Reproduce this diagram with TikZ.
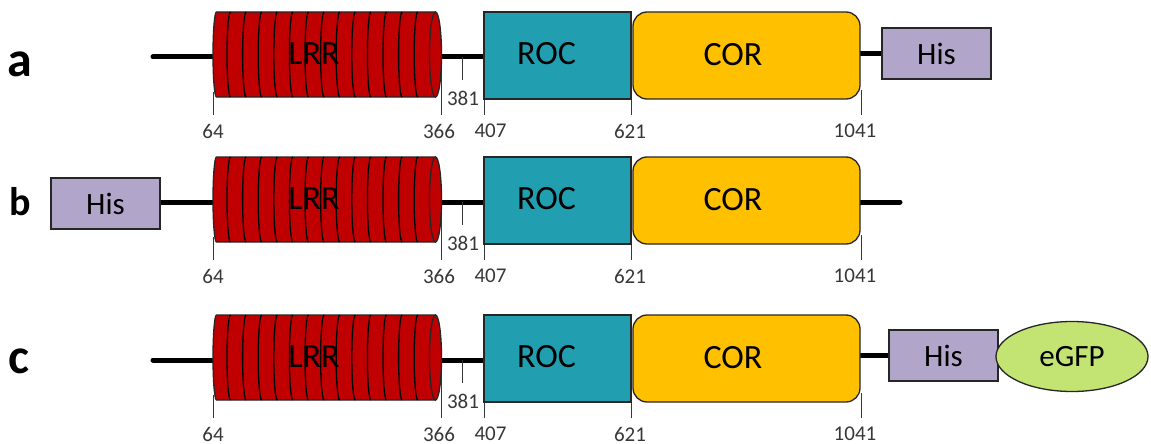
\documentclass[tikz,border=0pt]{standalone}
\usepackage{fontspec}
\setmainfont{Carlito}
\usetikzlibrary{shapes.geometric}

\definecolor{lrrred}{RGB}{192,0,0}
\definecolor{rocteal}{RGB}{33,158,175}
\definecolor{coryellow}{RGB}{255,192,0}
\definecolor{hislav}{RGB}{177,165,201}
\definecolor{gfpgreen}{RGB}{195,228,115}
\definecolor{tickgrey}{RGB}{55,55,55}

\pgfdeclarelayer{bg}
\pgfsetlayers{bg,main}

\tikzset{
  backbone/.style={line width=5pt, line cap=round, black},
  outline/.style={draw=black!85, line width=1.3pt},
  stripe/.style={draw=black, line width=1.3pt},
  tickmark/.style={draw=tickgrey, line width=1pt},
  ticklabel/.style={text=tickgrey, font=\fontsize{21}{24}\selectfont, inner sep=0pt},
  domtext/.style={font=\fontsize{34}{40}\selectfont, inner sep=0pt},
  rocbox/.style={outline, fill=rocteal, minimum width=147pt, minimum height=87pt, inner sep=0pt},
  corbox/.style={outline, fill=coryellow, rounded corners=14pt, minimum width=227pt, minimum height=87pt, inner sep=0pt},
  tagbox/.style={outline, fill=hislav, minimum width=109pt, minimum height=51pt, inner sep=0pt, font=\fontsize{31}{36}\selectfont},
  gfpbox/.style={ellipse, outline, fill=gfpgreen, minimum width=152pt, minimum height=70pt, inner sep=0pt, font=\fontsize{31}{36}\selectfont},
  rowletter/.style={anchor=base, inner sep=0pt, font=\bfseries},
}

% One construct: LRR cylinder, ROC, COR, residue ticks; #3 adds the tags
\newcommand\lrrkrow[3]{%
\begin{scope}[shift={(0,#2)}]
  \coordinate (#1lrrL) at (213,45);
  \coordinate (#1lrrR) at (435.5,45);
  \node[rocbox] (#1roc) at (557.5,43.5) {};
  \node[corbox] (#1cor) at (746.5,43.5) {};
  \begin{pgfonlayer}{bg}
    \draw[backbone] (#1lrrR) -- (#1roc.west |- #1lrrR);
    % residue ticks
    \draw[tickmark] (213,80) -- (213,103);
    \draw[tickmark] (441.5,45) -- (441.5,103);
    \draw[tickmark] (462,45) -- (462,68);
    \draw[tickmark] (484.5,80) -- (484.5,103);
    \draw[tickmark] (631,80) -- (631,103);
    \draw[tickmark] (861,78) -- (861,103);
  \end{pgfonlayer}
  % LRR cylinder with its repeat stripes
  \filldraw[outline, fill=lrrred] (216.5,85) arc (90:270:3.5 and 42.5) -- (435.5,0) -- (435.5,85) -- cycle;
  \foreach \i in {0,...,12} \draw[stripe] ({230.5+15.6*\i},85) arc (90:270:3.5 and 42.5);
  \filldraw[outline, fill=lrrred] (435.5,42.5) ellipse (6 and 42.5);
  \node[domtext] (#1lrr) at (314,42) {LRR};
  \node[domtext] (#1roctxt) at (546.5,42) {ROC};
  \node[domtext] (#1cortxt) at (733,43) {COR};
  % residue numbers
  \node[ticklabel] (#1n64) at (213,119) {64};
  \node[ticklabel] (#1n366) at (439,119) {366};
  \node[ticklabel] (#1n381) at (463,86) {381};
  \node[ticklabel] (#1n407) at (490.5,119) {407};
  \node[ticklabel] (#1n621) at (630,119) {621};
  \node[ticklabel] (#1n1041) at (855,119) {1041};
  #3
\end{scope}}

\begin{document}
\begin{tikzpicture}[x=1pt, y=-1pt]
\useasboundingbox (0,0) rectangle (1151,444);

% a: C-terminal His tag
\lrrkrow{a}{12}{%
  \node[tagbox] (ahis) at (936.5,41.5) {His};
  \coordinate (astart) at (153,45);
  \begin{pgfonlayer}{bg}
    \draw[backbone] (astart) -- (alrrL);
    \draw[backbone] (ahis.west -| acor.east) -- (ahis.west);
  \end{pgfonlayer}}

% b: N-terminal His tag
\lrrkrow{b}{157}{%
  \node[tagbox] (bhis) at (105.5,46.5) {His};
  \coordinate (bend) at (900,45);
  \begin{pgfonlayer}{bg}
    \draw[backbone] (bhis.east |- blrrL) -- (blrrL);
    \draw[backbone] (bcor.east |- bend) -- (bend);
  \end{pgfonlayer}}

% c: His tag followed by eGFP
\lrrkrow{c}{315}{%
  \node[tagbox] (chis) at (943.5,40.5) {His};
  \node[gfpbox] (cgfp) at (1072,41.5) {eGFP};
  \coordinate (cstart) at (153,45);
  \begin{pgfonlayer}{bg}
    \draw[backbone] (cstart) -- (clrrL);
    \draw[backbone] (chis.west -| ccor.east) -- (chis.west);
  \end{pgfonlayer}}

% row letters
\node[rowletter, font=\fontsize{50}{60}\selectfont\bfseries] (rowa) at (20,76.7) {a};
\node[rowletter, font=\fontsize{40}{46}\selectfont\bfseries] (rowb) at (20,215) {b};
\node[rowletter, font=\fontsize{50}{60}\selectfont\bfseries] (rowc) at (18.5,373) {c};
\end{tikzpicture}
\end{document}
